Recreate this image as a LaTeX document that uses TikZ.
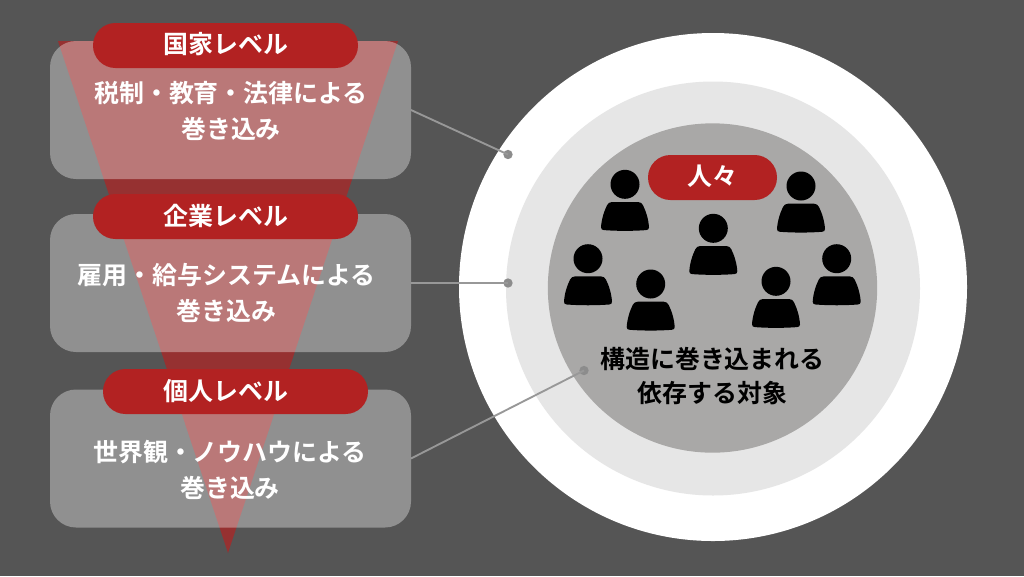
\documentclass[tikz,border=0pt]{standalone}
\usepackage{fontspec}
\setmainfont{Noto Sans CJK JP}[BoldFont={Noto Sans CJK JP Bold}]
\definecolor{bgc}{HTML}{555555}
\definecolor{redc}{HTML}{B22222}
\definecolor{midc}{HTML}{E6E6E6}
\definecolor{innerc}{HTML}{A9A8A7}
\definecolor{linec}{HTML}{989898}
\definecolor{dotc}{HTML}{8C8C8C}
\tikzset{
  card/.style={rectangle,rounded corners=19.5pt,fill=white,fill opacity=.35,minimum width=270.75pt,minimum height=103.5pt,inner sep=0pt,outer sep=0pt},
  pill/.style={rectangle,rounded corners=16.8pt,fill=redc,minimum width=198.75pt,minimum height=33.75pt,inner sep=0pt,outer sep=0pt},
  pilltext/.style={inner sep=0pt,text=white,font=\fontsize{18.7pt}{20pt}\selectfont\bfseries},
  body/.style={inner sep=0pt,text=white,align=center,font=\fontsize{18.7pt}{27pt}\selectfont\bfseries},
  inner/.style={inner sep=0pt,text=black,align=center,font=\fontsize{18.7pt}{25.5pt}\selectfont\bfseries},
  ring/.style={circle,inner sep=0pt,outer sep=0pt},
  conn/.style={draw=linec,line width=1.4pt},
  enddot/.style={circle,fill=dotc,minimum size=7pt,inner sep=0pt,outer sep=0pt},
  person/.pic={
    \fill[black] (0,0) circle (14.5);
    \fill[black] (-13,17.7) -- (13,17.7) .. controls (15.5,17.7) and (17,19) .. (18,21)
      .. controls (21,27) and (23.5,35) .. (24,43) .. controls (24,45) and (23,45.6) .. (21,45.8)
      .. controls (8,46.8) and (-8,46.8) .. (-21,45.8) .. controls (-23,45.6) and (-24,45) .. (-24,43)
      .. controls (-23.5,35) and (-21,27) .. (-18,21) .. controls (-17,19) and (-15.5,17.7) .. (-13,17.7) -- cycle;
  }
}
\begin{document}
\begin{tikzpicture}[x=0.75pt,y=-0.75pt]
\useasboundingbox (0,0) rectangle (1024,576);
\fill[bgc] (0,0) rectangle (1024,576);
% funnel
\fill[redc,fill opacity=.7] (58,41) -- (398,41) -- (228,553) -- cycle;
% cards
\node[card] (c1) at (230.5,110) {};
\node[card] (c2) at (230.5,283) {};
\node[card] (c3) at (230.5,458.5) {};
% pills
\node[pill] (p1) at (225.5,45.5) {};
\node[pill] (p2) at (225.5,216.5) {};
\node[pill] (p3) at (235.5,391.5) {};
\node[pilltext] (l1) at (226,44.5) {国家レベル};
\node[pilltext] (l2) at (226,216) {企業レベル};
\node[pilltext] (l3) at (226,391) {個人レベル};
% card text
\node[body] (t1) at (231,111) {税制・教育・法律による\\巻き込み};
\node[body] (t2) at (226.5,293) {雇用・給与システムによる\\巻き込み};
\node[body] (t3) at (230,470) {世界観・ノウハウによる\\巻き込み};
% rings
\node[ring,fill=white,minimum size=381pt] (r1) at (713,287) {};
\node[ring,fill=midc,minimum size=310.5pt] (r2) at (713,288.5) {};
\node[ring,fill=innerc,minimum size=247pt] (r3) at (712.5,288) {};
% connectors
\node[enddot] (d1) at (508,154.5) {};
\node[enddot] (d2) at (508,283) {};
\node[enddot] (d3) at (584,370.5) {};
\draw[conn] (c1.east) -- (d1.center);
\draw[conn] (c2.east) -- (d2.center);
\draw[conn] (c3.east) -- (d3.center);
% people
\pic at (625,184.3) {person};
\pic at (801,186) {person};
\pic at (713.3,228.3) {person};
\pic at (588,258.7) {person};
\pic at (650.7,284) {person};
\pic at (776,281.3) {person};
\pic at (836.7,258.7) {person};
\node[pill,minimum width=96.75pt] (p4) at (712.5,177.5) {};
\node[pilltext] (l4) at (712.5,176.5) {人々};
\node[inner] (t4) at (712.5,376.5) {構造に巻き込まれる\\依存する対象};
\end{tikzpicture}
\end{document}
